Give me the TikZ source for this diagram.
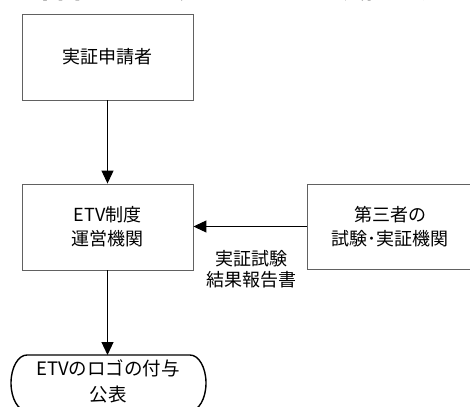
\documentclass[tikz,border=0pt]{standalone}
\usepackage{fontspec}
\setmainfont{Noto Sans CJK JP}
\usetikzlibrary{arrows.meta}
\begin{document}
\begin{tikzpicture}[x=1pt,y=-1pt,
  box/.style={draw=black!62, line width=0.9pt, rectangle, inner sep=0pt,
    minimum width=171pt, minimum height=86pt, align=center,
    font=\fontsize{18}{24}\selectfont},
  arr/.style={draw=black, line width=1.1pt, -{Triangle[length=13pt,width=12pt]}},
  lbl/.style={align=center, inner sep=0pt, font=\fontsize{18}{21}\selectfont},
  termline/.style={draw=black, line width=1.4pt},
  termtext/.style={align=center, inner sep=0pt, font=\fontsize{18.5}{26}\selectfont},
  titletext/.style={anchor=base, inner sep=0pt, font=\bfseries\fontsize{24}{26}\selectfont}]
\useasboundingbox (0,0) rectangle (470,406);
\node[titletext] (title) at (248,-1.3) {米国ETVプログラムにおける実証の流れ};
\node[box] (applicant) at (107.5,57) {実証申請者};
\node[box] (etv) at (107.5,227) {ETV制度\\運営機関};
\node[box, minimum width=166pt, minimum height=85pt] (third) at (390,226.5) {第三者の\\試験･実証機関};
\draw[termline] (27,355) -- (190,355)
  arc[start angle=90,end angle=-90,x radius=16pt,y radius=28pt]
  -- (27,411)
  arc[start angle=270,end angle=90,x radius=16pt,y radius=28pt] -- cycle;
\coordinate (termtop) at (107.5,355);
\node[termtext] (term) at (108,381) {ETVのロゴの付与\\公表};
\node[lbl] (report) at (251,269) {実証試験\\結果報告書};
\draw[arr] (applicant) -- (etv);
\draw[arr] (third.west) -- (etv.east |- third.west);
\draw[arr] (etv) -- (termtop);
\end{tikzpicture}
\end{document}
